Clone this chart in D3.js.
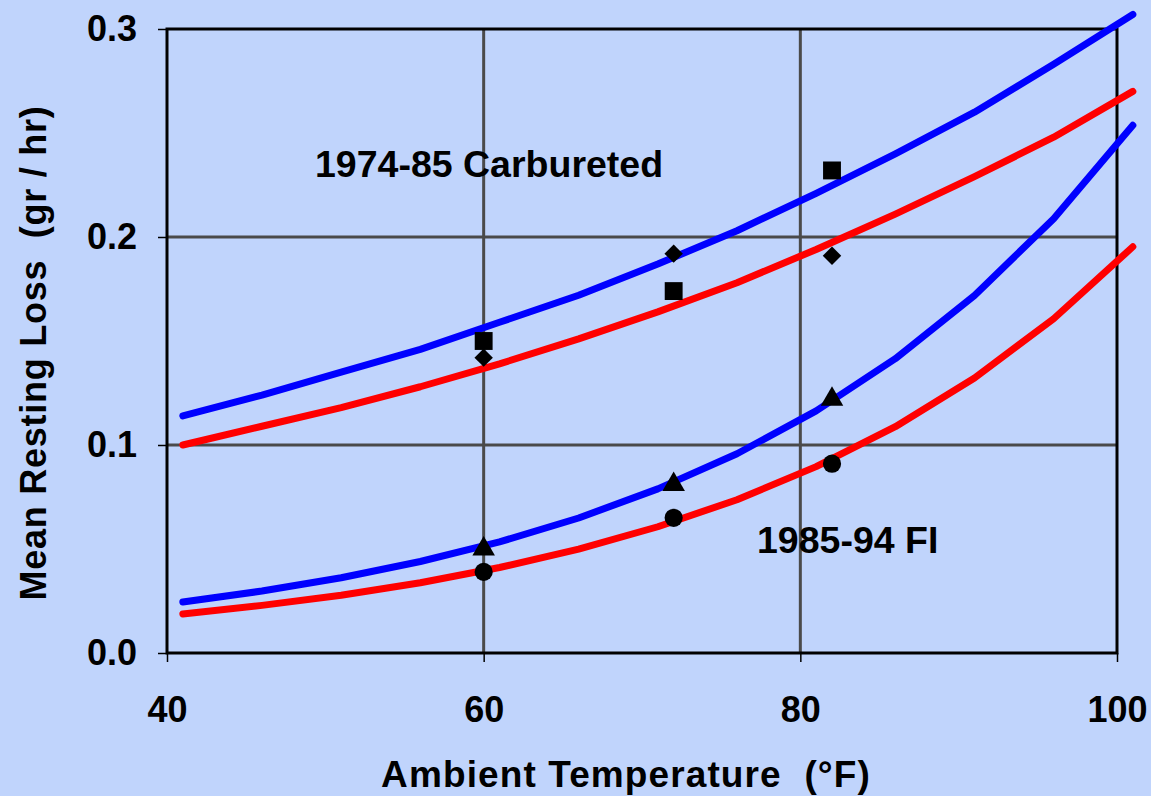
<!DOCTYPE html>
<html>
<head>
<meta charset="utf-8">
<script src="https://cdn.jsdelivr.net/npm/d3@7"></script>
<style>
  html, body { margin: 0; padding: 0; background: #c0d4fc; }
  svg { display: block; font-family: "Liberation Sans", Arial, sans-serif; font-weight: bold; }
  text { white-space: pre; }
</style>
</head>
<body>
<div id="chart"></div>
<script>
// temperatures of the model curves (deg F)
var temps = [41, 46, 51, 56, 61, 66, 71, 76, 81, 86, 91, 96, 101];

// model curves, mean resting loss (gr/hr)
var carbBlue = [0.114, 0.124, 0.135, 0.146, 0.159, 0.172, 0.187, 0.203, 0.221, 0.240, 0.260, 0.283, 0.307];
var carbRed  = [0.100, 0.109, 0.118, 0.128, 0.139, 0.151, 0.164, 0.178, 0.194, 0.211, 0.229, 0.248, 0.270];
var fiBlue   = [0.0245, 0.0298, 0.0362, 0.0440, 0.0534, 0.0649, 0.0789, 0.0958, 0.1164, 0.1415, 0.1719, 0.2088, 0.2537];
var fiRed    = [0.0188, 0.0229, 0.0278, 0.0338, 0.0411, 0.0499, 0.0607, 0.0737, 0.0896, 0.1088, 0.1322, 0.1607, 0.1953];

// measured points
var testTemps = [60, 72, 82];
var carbSquares  = [0.150, 0.174, 0.232];
var carbDiamonds = [0.142, 0.192, 0.191];
var fiTriangles  = [0.050, 0.081, 0.122];
var fiCircles    = [0.039, 0.065, 0.091];

var xTicks = [40, 60, 80, 100];
var yTicks = [0.0, 0.1, 0.2, 0.3];

var width = 1151, height = 796;
var margin = { left: 167, right: 34, top: 29, bottom: 143 };

var svg = d3.select('#chart')
    .append('svg')
    .attr('width', width)
    .attr('height', height);

svg.append('rect').attr('width', width).attr('height', height).attr('fill', '#c0d4fc');

var x = d3.scaleLinear().domain([40, 100]).range([margin.left, width - margin.right]);
var y = d3.scaleLinear().domain([0, 0.3]).range([height - margin.bottom, margin.top]);

// grid
var grid = svg.append('g');
grid.selectAll('.vg').data(xTicks.slice(1, -1)).enter().append('line')
    .attr('x1', d => x(d)).attr('x2', d => x(d))
    .attr('y1', y(0)).attr('y2', y(0.3))
    .attr('stroke', '#4a4a4a').attr('stroke-width', 3);
grid.selectAll('.hg').data(yTicks.slice(1, -1)).enter().append('line')
    .attr('y1', d => y(d)).attr('y2', d => y(d))
    .attr('x1', x(40)).attr('x2', x(100))
    .attr('stroke', '#4a4a4a').attr('stroke-width', 3);

// plot frame
svg.append('rect')
    .attr('x', x(40)).attr('y', y(0.3))
    .attr('width', x(100) - x(40)).attr('height', y(0) - y(0.3))
    .attr('fill', 'none').attr('stroke', '#000').attr('stroke-width', 3);

// axes
var xAxis = svg.append('g')
    .attr('transform', 'translate(0,' + y(0) + ')')
    .call(d3.axisBottom(x).tickValues(xTicks).tickSize(9).tickPadding(34).tickFormat(d3.format('d')));
var yAxis = svg.append('g')
    .attr('transform', 'translate(' + x(40) + ',0)')
    .call(d3.axisLeft(y).tickValues(yTicks).tickSize(9).tickPadding(21).tickFormat(d3.format('.1f')));
[xAxis, yAxis].forEach(function (a) {
    a.select('.domain').remove();
    a.selectAll('.tick line').attr('stroke', '#000').attr('stroke-width', 1.5);
    a.selectAll('.tick text').attr('fill', '#000')
        .style('font-size', '36px').style('font-weight', 'bold')
        .style('font-family', '"Liberation Sans", Arial, sans-serif');
});

// curves
var line = d3.line()
    .x((d, i) => x(temps[i]))
    .y(d => y(d));

[[carbRed, '#ff0000'], [carbBlue, '#0000ff'], [fiRed, '#ff0000'], [fiBlue, '#0000ff']].forEach(function (s) {
    svg.append('path')
        .datum(s[0])
        .attr('d', line)
        .attr('fill', 'none')
        .attr('stroke', s[1])
        .attr('stroke-width', 7)
        .attr('stroke-linecap', 'round')
        .attr('stroke-linejoin', 'round');
});

// markers
function drawPoints(vals, type, size, rot) {
    svg.append('g').selectAll('path')
        .data(vals).enter().append('path')
        .attr('transform', (d, i) => 'translate(' + x(testTemps[i]) + ',' + y(d) + ') rotate(' + (rot || 0) + ')')
        .attr('d', d3.symbol().type(type).size(size))
        .attr('fill', '#000');
}
drawPoints(carbSquares, d3.symbolSquare, 320);
drawPoints(carbDiamonds, d3.symbolSquare, 170, 45);
drawPoints(fiTriangles, d3.symbolTriangle, 220);
drawPoints(fiCircles, d3.symbolCircle, 260);

// labels
svg.append('text')
    .attr('x', 315).attr('y', 177)
    .style('font-size', '37.5px')
    .text('1974-85 Carbureted');
svg.append('text')
    .attr('x', 757).attr('y', 553)
    .style('font-size', '37.5px')
    .text('1985-94 FI');

svg.append('text')
    .attr('x', 626).attr('y', 787)
    .attr('text-anchor', 'middle')
    .style('font-size', '37px')
    .style('letter-spacing', '1.1px')
    .text('Ambient Temperature  (°F)');

svg.append('text')
    .attr('transform', 'translate(46,' + 353 + ') rotate(-90)')
    .attr('text-anchor', 'middle')
    .style('font-size', '36px')
    .style('letter-spacing', '0.75px')
    .text('Mean Resting Loss  (gr / hr)');
</script>
</body>
</html>
